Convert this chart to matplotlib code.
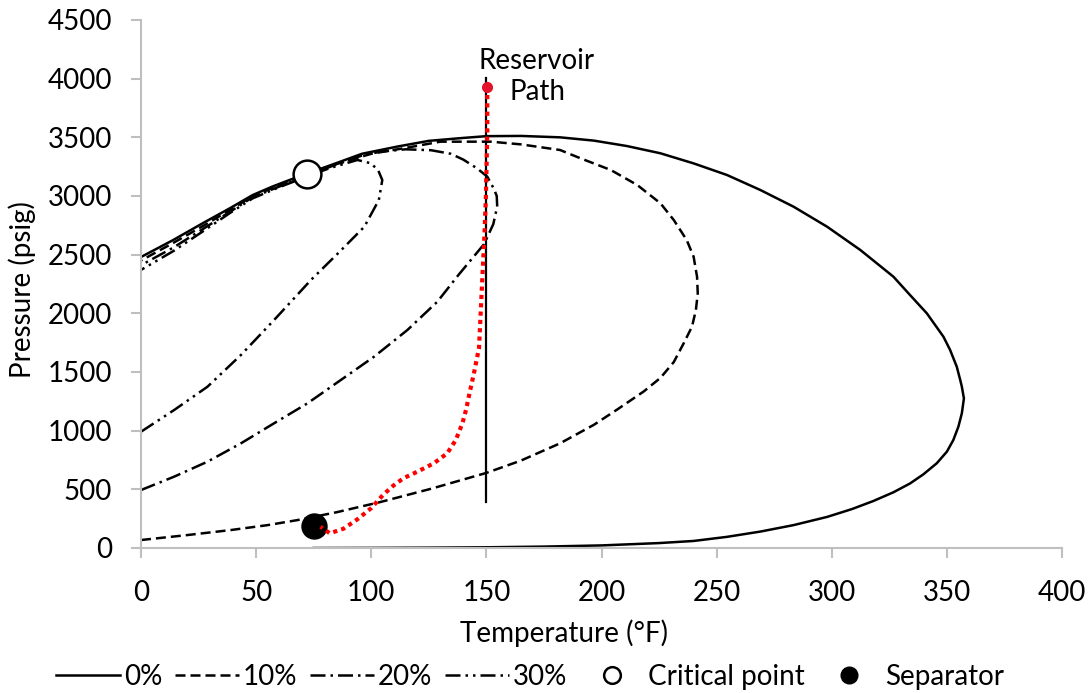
import matplotlib
matplotlib.use("Agg")
import matplotlib.pyplot as plt
from matplotlib.lines import Line2D

plt.rcParams['font.family'] = ['Lato', 'DejaVu Sans']

# 0% envelope (temperature in F, pressure in psig)
env0_T = [75, 100, 125, 150, 175, 200, 225, 240, 254.5, 269, 283.4, 298, 308.8, 318, 326.8, 334,
          339.8, 345.6, 350, 352.8, 355, 356.5, 357.4, 356.5, 355.8, 354.3, 351.4, 348.5, 341.3,
          334, 326.8, 312.4, 298, 283.4, 269, 254.5, 240, 225.6, 211, 196.7, 182, 165, 150, 140,
          125, 111, 96, 82, 72, 65, 57, 48.5, 39, 27, 14, 0]
env0_P = [0, 1, 3, 6, 12, 22, 42, 60, 95, 140, 195, 265, 332, 400, 475, 550,
          628, 722, 821, 920, 1034, 1148, 1275, 1375, 1432, 1545, 1688, 1801, 2000,
          2156, 2312, 2540, 2738, 2909, 3051, 3179, 3278, 3364, 3426, 3472, 3500, 3512, 3510, 3495,
          3470, 3420, 3360, 3260, 3190, 3140, 3080, 3008, 2900, 2770, 2625, 2480]

# 10% envelope
env10_T = [0, 20, 39, 55, 68, 85, 104, 126, 150, 165, 182, 196.7, 206.8, 218.4, 225.6, 231.4,
           235.7, 239.3, 241, 241.8, 241.5, 240, 237, 231.4, 225.6, 215.5, 204, 190.9, 182, 165,
           152, 130, 115, 100, 82, 72, 60, 48.5, 39, 27, 14, 0]
env10_P = [68, 110, 153, 195, 238, 305, 392, 505, 640, 745, 892, 1050, 1180, 1335, 1450, 1585,
           1745, 1886, 2028, 2171, 2312, 2483, 2625, 2795, 2938, 3094, 3222, 3321, 3392, 3440,
           3463, 3463, 3410, 3360, 3255, 3180, 3090, 3000, 2885, 2745, 2600, 2450]

# 20% envelope
env20_T = [0, 14.4, 28.9, 43.4, 57.8, 72.3, 86.8, 101.2, 115.7, 128.7, 138, 149, 153, 154.7, 154.5,
           153.3, 150.4, 146, 140, 134.5, 126, 115, 104, 96, 82, 72, 60, 48.5, 39, 27, 14, 0]
env20_P = [494, 608, 736, 892, 1063, 1233, 1432, 1630, 1858, 2099, 2330, 2590, 2760, 2909, 3000,
           3060, 3165, 3235, 3310, 3360, 3390, 3398, 3378, 3345, 3248, 3172, 3080, 2990, 2870, 2720,
           2560, 2410]

# 30% envelope
env30_T = [0, 14.4, 28.9, 43.4, 57.8, 73.8, 86, 97, 103.3, 104.8, 103, 99.8, 94, 82, 72, 60, 48.5,
           39, 27, 14, 0]
env30_P = [991, 1176, 1375, 1645, 1943, 2284, 2520, 2738, 2966, 3136, 3220, 3279, 3307, 3238, 3165,
           3075, 2980, 2860, 2700, 2530, 2370]

# reservoir to separator path
path_T = [150.4, 150.4, 149.8, 149.2, 148, 146.8, 144.5, 142.8, 141.2, 139.6, 136.7, 133, 127.2,
          120, 114, 109.5, 105, 100, 94, 88, 82, 78]
path_P = [3932, 3537, 3000, 2685, 2200, 1705, 1480, 1330, 1180, 1063, 920, 807, 722,
          650, 595, 530, 450, 340, 245, 165, 125, 182]

res_T = [150, 150]
res_P = [395, 4003]

crit_T, crit_P = 72.3, 3187
sep_T, sep_P = 75.2, 188

fs = 20
fig = plt.figure(figsize=(10.9, 6.93), dpi=100)
ax = fig.add_axes([141 / 1090, 1 - 548 / 693, (1062 - 141) / 1090, (548 - 20) / 693])

lw = 1.8
ax.plot(env0_T, env0_P, color='black', lw=lw, solid_joinstyle='round')
ax.plot(env10_T, env10_P, color='black', lw=lw, linestyle=(0, (4, 2)))
ax.plot(env20_T, env20_P, color='black', lw=lw, linestyle=(0, (6, 2, 1, 2)))
ax.plot(env30_T, env30_P, color='black', lw=lw, linestyle=(0, (6, 2, 1, 2, 1, 2)))
ax.plot(res_T, res_P, color='black', lw=1.6)

ax.plot(crit_T, crit_P, 'o', ms=20, mfc='white', mec='black', mew=1.8, zorder=5)
ax.plot(sep_T, sep_P, 'o', ms=18, mfc='black', mec='black', zorder=5)
ax.plot(path_T, path_P, color='red', lw=3, linestyle=(0, (1, 1)), zorder=6)
ax.plot(path_T[0], path_P[0], 'o', ms=7, color='#e3132b', zorder=7)

ax.text(172, 4018, "Reservoir\nPath", ha='center', va='center', fontsize=fs, linespacing=1.2)

ax.set_xlim(0, 400)
ax.set_ylim(0, 4500)
ax.set_xticks(range(0, 401, 50))
ax.set_yticks(range(0, 4501, 500))
for s in ['top', 'right']:
    ax.spines[s].set_visible(False)
for s in ['left', 'bottom']:
    ax.spines[s].set_color('#bfbfbf')
    ax.spines[s].set_linewidth(1.5)
ax.tick_params(length=7, width=1.5, color='#bfbfbf', labelsize=fs)
ax.tick_params(axis='x', pad=16)
ax.tick_params(axis='y', pad=14)

fig.text(564 / 1090, 1 - 633 / 693, "Temperature (°F)", ha='center', va='center', fontsize=fs)
fig.text(22 / 1090, 1 - 290 / 693, "Pressure (psig)", ha='center', va='center', rotation=90, fontsize=fs)

handles = [
    Line2D([], [], color='black', lw=lw),
    Line2D([], [], color='black', lw=lw, linestyle=(0, (4, 2))),
    Line2D([], [], color='black', lw=lw, linestyle=(0, (6, 2, 1, 2))),
    Line2D([], [], color='black', lw=lw, linestyle=(0, (6, 2, 1, 2, 1, 2))),
    Line2D([], [], linestyle='none', marker='o', ms=12, mfc='white', mec='black', mew=1.8),
    Line2D([], [], linestyle='none', marker='o', ms=12, mfc='black', mec='black'),
]
labels = ['0%', '10%', '20%', '30%', 'Critical point', 'Separator']
fig.legend(handles, labels, loc='center', bbox_to_anchor=(530 / 1090, 1 - 677 / 693), ncol=6,
           frameon=False, fontsize=fs, handlelength=2.3, handletextpad=0.15, columnspacing=0.45)

fig.savefig('out.png', dpi=100)
